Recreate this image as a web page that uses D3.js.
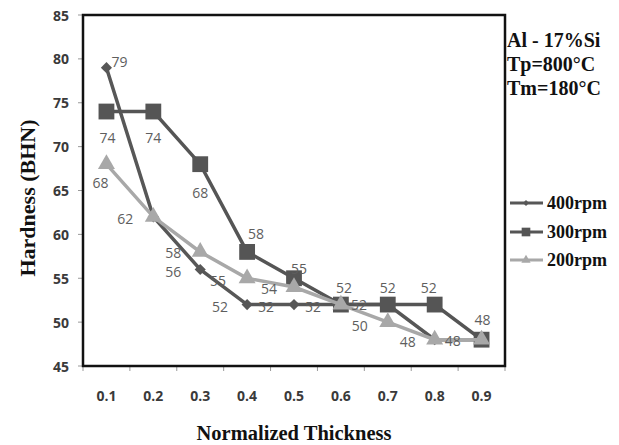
<!DOCTYPE html>
<html lang="en">
<head>
<meta charset="UTF-8">
<title>Hardness vs Normalized Thickness</title>
<script src="https://cdn.jsdelivr.net/npm/d3@7/dist/d3.min.js"></script>
<style>
body { margin: 0; background: #fff; }
.tick-y, .tick-x { font: bold 14px "Open Sans", sans-serif; fill: #3a3a3a; }
.serif { font-family: "Liberation Serif", "Times New Roman", serif; font-weight: bold; fill: #111; }
.dlabel { font: 14px "Open Sans", sans-serif; fill: #5e5e5e; }
</style>
</head>
<body>
<svg width="619" height="445"></svg>
<script>
// data
var categories = ["0.1", "0.2", "0.3", "0.4", "0.5", "0.6", "0.7", "0.8", "0.9"];
var yTicks = [45, 50, 55, 60, 65, 70, 75, 80, 85];
var seriesNames = ["400rpm", "300rpm", "200rpm"];
var rpm400 = [79, 62, 56, 52, 52, 52, 52, 48, 48];
var rpm300 = [74, 74, 68, 58, 55, 52, 52, 52, 48];
var rpm200 = [68, 62, 58, 55, 54, 52, 50, 48, 48];
var notes = ["Al - 17%Si", "Tp=800\u00b0C", "Tm=180\u00b0C"];

// label offsets from the point (null = label hidden)
var off400 = [[13, -6], [-28, 2], [-27, 2], [-27, 2], [-28, 2], [-28, 2], null, [18, 1], null];
var off300 = [[1, 26], [0, 26], [0, 28], [9, -18], [5, -10], [3, -17], [0, -17], [-6, -17], [1, -20]];
var off200 = [[-6, 18], null, [-27, 1], [-29, 2], [-25, 1], [18, 0], [-28, 3], [-27, 2], null];

var svg = d3.select("svg");
var pl = 83, pt = 15, pr = 505, pb = 366;

var x = d3.scaleBand().domain(categories).range([pl, pr]);
var y = d3.scaleLinear().domain([45, 85]).range([pb, pt]);

// y ticks
svg.append("g").selectAll("line").data(yTicks).enter().append("line")
    .attr("x1", pl - 5).attr("x2", pl)
    .attr("y1", function(d) { return y(d); }).attr("y2", function(d) { return y(d); })
    .attr("stroke", "#999").attr("stroke-width", 1);
svg.append("g").selectAll("text").data(yTicks).enter().append("text")
    .attr("class", "tick-y")
    .attr("x", pl - 14).attr("y", function(d) { return y(d); })
    .attr("text-anchor", "end").attr("dominant-baseline", "central")
    .text(function(d) { return d; });

// x ticks at category edges
var edges = categories.map(function(c) { return x(c); }).concat([pr]);
svg.append("g").selectAll("line").data(edges).enter().append("line")
    .attr("x1", function(d) { return d; }).attr("x2", function(d) { return d; })
    .attr("y1", pb).attr("y2", pb + 5)
    .attr("stroke", "#999").attr("stroke-width", 1);
svg.append("g").selectAll("text").data(categories).enter().append("text")
    .attr("class", "tick-x")
    .attr("x", function(d) { return x(d) + x.bandwidth() / 2; }).attr("y", 395)
    .attr("text-anchor", "middle").attr("dominant-baseline", "central")
    .text(function(d) { return d; });

// frame
svg.append("rect").attr("x", pl).attr("y", pt)
    .attr("width", pr - pl).attr("height", pb - pt)
    .attr("fill", "none").attr("stroke", "#111").attr("stroke-width", 2.5);

var series = [
    { name: seriesNames[0], values: rpm400, off: off400, color: "#575757", shape: d3.symbolSquare, size: 62, rot: 45 },
    { name: seriesNames[1], values: rpm300, off: off300, color: "#555555", shape: d3.symbolSquare, size: 250, rot: 0 },
    { name: seriesNames[2], values: rpm200, off: off200, color: "#a8a8a8", shape: d3.symbolTriangle, size: 125, rot: 0 }
];

var cx = function(i) { return x(categories[i]) + x.bandwidth() / 2; };
var line = d3.line().x(function(d, i) { return cx(i); }).y(function(d) { return y(d); });

series.forEach(function(s) {
    var g = svg.append("g");
    g.append("path").datum(s.values).attr("d", line)
        .attr("fill", "none").attr("stroke", s.color).attr("stroke-width", 3.5);
    g.selectAll("path.m").data(s.values).enter().append("path")
        .attr("class", "m")
        .attr("d", d3.symbol().type(s.shape).size(s.size))
        .attr("transform", function(d, i) { return "translate(" + cx(i) + "," + y(d) + ") rotate(" + s.rot + ")"; })
        .attr("fill", s.color);
});

// data labels
series.forEach(function(s) {
    var lg = svg.append("g");
    s.values.forEach(function(v, i) {
        if (!s.off[i]) return;
        lg.append("text").attr("class", "dlabel")
            .attr("x", cx(i) + s.off[i][0]).attr("y", y(v) + s.off[i][1])
            .attr("text-anchor", "middle").attr("dominant-baseline", "central")
            .text(v);
    });
});

// legend
var legY = [203, 232, 260];
series.forEach(function(s, i) {
    var lg = svg.append("g");
    lg.append("line").attr("x1", 510).attr("x2", 543).attr("y1", legY[i]).attr("y2", legY[i])
        .attr("stroke", s.color).attr("stroke-width", 3);
    lg.append("path").attr("d", d3.symbol().type(s.shape).size(s.size * 0.3))
        .attr("transform", "translate(526," + legY[i] + ") rotate(" + s.rot + ")").attr("fill", s.color);
    lg.append("text").attr("class", "serif").attr("x", 547).attr("y", legY[i])
        .attr("dominant-baseline", "central").style("font-size", "18px")
        .text(s.name);
});

// notes
svg.append("g").selectAll("text").data(notes).enter().append("text")
    .attr("class", "serif").attr("x", 507)
    .attr("y", function(d, i) { return 47 + i * 24; })
    .style("font-size", "20px")
    .text(function(d) { return d; });

// axis titles
svg.append("text").attr("class", "serif").attr("x", 294).attr("y", 440)
    .attr("text-anchor", "middle").style("font-size", "20.5px")
    .text("Normalized Thickness");
svg.append("text").attr("class", "serif")
    .attr("transform", "translate(35,198) rotate(-90)")
    .attr("text-anchor", "middle").style("font-size", "22px")
    .text("Hardness (BHN)");
</script>
</body>
</html>
